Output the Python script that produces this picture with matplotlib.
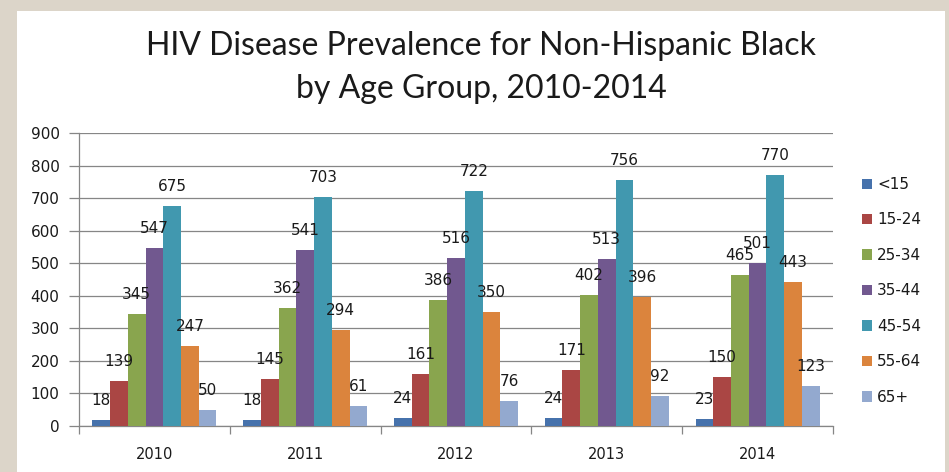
#!/usr/bin/env python3
# HIV disease prevalence, non-Hispanic Black, by age group 2010-2014

import numpy as np
import matplotlib
matplotlib.use("Agg")
import matplotlib.pyplot as plt
from matplotlib.patches import Rectangle

# Data
years = ["2010", "2011", "2012", "2013", "2014"]
age_groups = ["<15", "15-24", "25-34", "35-44", "45-54", "55-64", "65+"]
under_15 = [18, 18, 24, 24, 23]
age_15_24 = [139, 145, 161, 171, 150]
age_25_34 = [345, 362, 386, 402, 465]
age_35_44 = [547, 541, 516, 513, 501]
age_45_54 = [675, 703, 722, 756, 770]
age_55_64 = [247, 294, 350, 396, 443]
age_65_up = [50, 61, 76, 92, 123]

series = [under_15, age_15_24, age_25_34, age_35_44, age_45_54, age_55_64, age_65_up]
colors = ["#4672AC", "#AA4644", "#89A54E", "#71588F", "#4198AF", "#DB843D", "#93A9CF"]

BG = "#DCD5C9"
GRID = "#868686"
TXT = "#1A1A1A"

fig = plt.figure(figsize=(9.49, 4.72), dpi=100)
fig.patch.set_facecolor(BG)
# white chart panel on the beige slide
fig.patches.append(Rectangle((17 / 949, 0), (945 - 17) / 949, 1 - 11 / 472,
                             transform=fig.transFigure, facecolor="white",
                             edgecolor="none", zorder=-5))

ax = fig.add_axes([79 / 949, 1 - 426 / 472, (833 - 79) / 949, (426 - 133) / 472])
ax.set_facecolor("white")

n = len(series)
bar_w = 1 / (n + 1.5)
x = np.arange(len(years))
for i, (vals, col, lab) in enumerate(zip(series, colors, age_groups)):
    pos = x - (n / 2 - 0.5 - i) * bar_w
    ax.bar(pos, vals, width=bar_w, color=col, label=lab, zorder=3, linewidth=0)
    for px, v in zip(pos, vals):
        ax.annotate(str(v), (px, v), xytext=(0, 14), textcoords="offset points",
                    ha="center", va="center", fontsize=11, color=TXT, zorder=5)

ax.set_xlim(-0.5, len(years) - 0.5)
ax.set_ylim(0, 900)
ax.set_yticks(range(0, 901, 100))
ax.yaxis.grid(True, color=GRID, linewidth=0.9, zorder=0)
ax.set_axisbelow(True)

ax.set_xticks(x)
ax.set_xticklabels(years, fontsize=10.5, color=TXT)
ax.set_xticks(np.arange(-0.5, len(years)), minor=True)
ax.tick_params(axis="x", which="major", length=0, pad=15)
ax.tick_params(axis="x", which="minor", length=6, color=GRID, width=0.9)
ax.tick_params(axis="y", length=7, color=GRID, width=0.9, labelsize=11,
               labelcolor=TXT, pad=7)

for s in ["top", "right"]:
    ax.spines[s].set_visible(False)
for s in ["left", "bottom"]:
    ax.spines[s].set_color(GRID)
    ax.spines[s].set_linewidth(0.9)

fig.text(481 / 949, 1 - 46 / 472, "HIV Disease Prevalence for Non-Hispanic Black",
         ha="center", va="center", fontsize=23, family="Lato", color=TXT)
fig.text(481 / 949, 1 - 89 / 472, "by Age Group, 2010-2014",
         ha="center", va="center", fontsize=23, family="Lato", color=TXT)

leg = ax.legend(loc="upper left", bbox_to_anchor=(862 / 949, 1 - 177 / 472),
                bbox_transform=fig.transFigure, frameon=False, fontsize=11,
                handlelength=0.65, handleheight=0.65, handletextpad=0.35,
                labelspacing=1.34, borderaxespad=0, borderpad=0)
for t in leg.get_texts():
    t.set_color(TXT)

fig.savefig("out.png", dpi=100, facecolor=BG)
